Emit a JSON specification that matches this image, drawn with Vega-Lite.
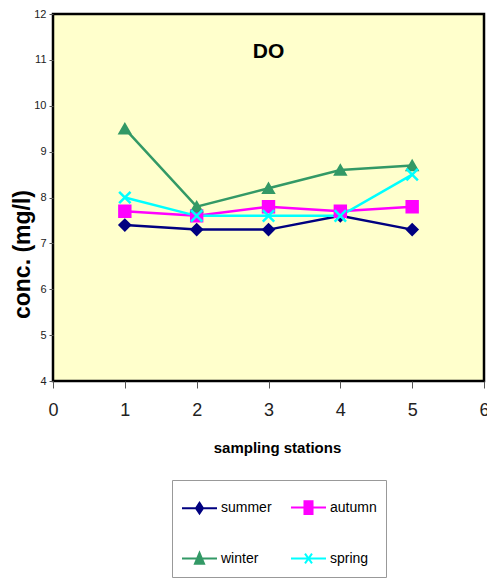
{
  "$schema": "https://vega.github.io/schema/vega-lite/v6.json",
  "autosize": "none",
  "width": 431,
  "height": 367,
  "padding": {"left": 53, "top": 14, "right": 3, "bottom": 198},
  "background": "white",
  "title": {"text": "DO", "font": "Liberation Sans", "fontSize": 21, "fontWeight": "bold", "color": "black", "anchor": "middle", "frame": "group", "offset": -54, "dx": 0},
  "config": {
    "view": {"fill": "#FFFFCC", "stroke": "black", "strokeWidth": 2.5},
    "axis": {"grid": false, "domain": false, "tickColor": "#555", "labelColor": "#222", "titleColor": "black"},
    "legend": {"title": null, "orient": "none", "legendX": 119, "legendY": 466, "columns": 2, "direction": "horizontal",
      "strokeColor": "#999", "fillColor": "white", "padding": 9, "rowPadding": 22, "columnPadding": 15,
      "labelFont": "Liberation Sans", "labelFontSize": 14, "labelColor": "black", "labelOffset": 3, "symbolSize": 1225, "symbolStrokeWidth": 2, "labelLimit": 80}
  },
  "data": {"values": [
    {"station": 1, "season": "summer", "conc": 7.4},
    {"station": 2, "season": "summer", "conc": 7.3},
    {"station": 3, "season": "summer", "conc": 7.3},
    {"station": 4, "season": "summer", "conc": 7.6},
    {"station": 5, "season": "summer", "conc": 7.3},
    {"station": 1, "season": "autumn", "conc": 7.7},
    {"station": 2, "season": "autumn", "conc": 7.6},
    {"station": 3, "season": "autumn", "conc": 7.8},
    {"station": 4, "season": "autumn", "conc": 7.7},
    {"station": 5, "season": "autumn", "conc": 7.8},
    {"station": 1, "season": "winter", "conc": 9.5},
    {"station": 2, "season": "winter", "conc": 7.8},
    {"station": 3, "season": "winter", "conc": 8.2},
    {"station": 4, "season": "winter", "conc": 8.6},
    {"station": 5, "season": "winter", "conc": 8.7},
    {"station": 1, "season": "spring", "conc": 8.0},
    {"station": 2, "season": "spring", "conc": 7.6},
    {"station": 3, "season": "spring", "conc": 7.6},
    {"station": 4, "season": "spring", "conc": 7.6},
    {"station": 5, "season": "spring", "conc": 8.5}
  ]},
  "encoding": {
    "x": {"field": "station", "type": "quantitative",
      "scale": {"domain": [0, 6], "nice": false, "zero": false},
      "axis": {"values": [0,1,2,3,4,5,6], "tickSize": 7, "labelFont": "Liberation Sans", "labelFontSize": 18, "labelPadding": 13, "labelFlush": false,
        "title": "sampling stations", "titleFont": "Liberation Sans", "titleFontSize": 15, "titleFontWeight": "bold", "titleX": 224, "titleY": 59, "titleBaseline": "top"}},
    "y": {"field": "conc", "type": "quantitative",
      "scale": {"domain": [4, 12], "nice": false, "zero": false},
      "axis": {"values": [4,5,6,7,8,9,10,11,12], "tickSize": 4, "labelFont": "Liberation Sans", "labelFontSize": 11, "labelPadding": 3, "labelFlush": false,
        "title": "conc. (mg/l)", "titleFont": "Liberation Sans", "titleFontSize": 23, "titleFontWeight": "bold", "titleX": -31, "titleY": 240, "titleBaseline": "middle", "titleAngle": -90}}
  },
  "layer": [
    {
      "mark": {"type": "line", "strokeWidth": 2.5},
      "encoding": {
        "stroke": {"field": "season", "type": "nominal",
          "scale": {"domain": ["summer", "autumn", "winter", "spring"], "range": ["#000080", "#FF00FF", "#339966", "#00FFFF"]},
          "legend": {"encode": {"symbols": {"update": {
            "shape": {"signal": "datum.value === 'summer' ? 'M-1,0H1M0,-0.3L0.2,0L0,0.3L-0.2,0Z' : datum.value === 'autumn' ? 'M-1,0H1M-0.23,-0.36H0.23V0.36H-0.23Z' : datum.value === 'winter' ? 'M-1,0H1M0,-0.32L0.26,0.3H-0.26Z' : 'M-1,0H1M-0.2,-0.28L0.2,0.28M0.2,-0.28L-0.2,0.28'"},
            "fill": {"signal": "scale('stroke', datum.value)"},
            "stroke": {"signal": "scale('stroke', datum.value)"}}}}}},
        "detail": {"field": "season"}
      }
    },
    {
      "transform": [{"filter": "datum.season === 'summer'"}],
      "mark": {"type": "point", "filled": true, "opacity": 1, "shape": "diamond", "color": "#000080", "stroke": "#000080", "strokeWidth": 2, "size": 120}
    },
    {
      "transform": [{"filter": "datum.season === 'autumn'"}],
      "mark": {"type": "point", "filled": true, "opacity": 1, "shape": "square", "color": "#FF00FF", "stroke": "#FF00FF", "strokeWidth": 2, "size": 130}
    },
    {
      "transform": [{"filter": "datum.season === 'winter'"}],
      "mark": {"type": "point", "filled": true, "opacity": 1, "shape": "triangle-up", "color": "#339966", "stroke": "#339966", "strokeWidth": 2, "size": 120}
    },
    {
      "transform": [{"filter": "datum.season === 'spring'"}],
      "mark": {"type": "point", "filled": false, "opacity": 1, "shape": "M-1,-1L1,1M1,-1L-1,1", "color": "#00FFFF", "strokeWidth": 2.5, "size": 130}
    }
  ]
}
